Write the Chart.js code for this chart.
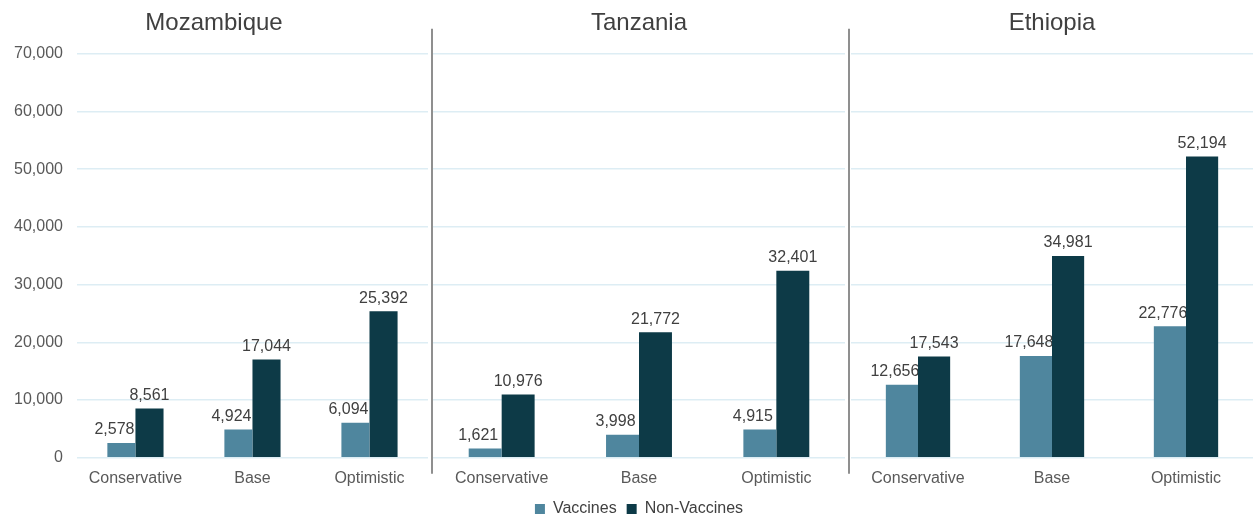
<!DOCTYPE html>
<html>
<head>
<meta charset="utf-8">
<script src="https://cdn.jsdelivr.net/npm/chart.js@4/dist/chart.umd.min.js"></script>
<style>
  html, body { margin: 0; padding: 0; background: #ffffff; }
  #wrap { position: relative; width: 1258px; height: 522px; overflow: hidden; }
  .panel { position: absolute; top: 0; height: 522px; }
</style>
</head>
<body>
<div id="wrap">
  <div class="panel" style="left:0;width:431px"><canvas id="c0"></canvas></div>
  <div class="panel" style="left:431px;width:417px;height:529px"><canvas id="c1"></canvas></div>
  <div class="panel" style="left:848px;width:410px"><canvas id="c2"></canvas></div>
</div>
<script>
// Scenario categories and country panels
const scenarios = ['Conservative', 'Base', 'Optimistic'];
const countries = ['Mozambique', 'Tanzania', 'Ethiopia'];
const seriesNames = ['Vaccines', 'Non-Vaccines'];

// Values per country, one array per series
const mozambiqueVaccines = [2578, 4924, 6094];
const mozambiqueNonVaccines = [8561, 17044, 25392];
const tanzaniaVaccines = [1621, 3998, 4915];
const tanzaniaNonVaccines = [10976, 21772, 32401];
const ethiopiaVaccines = [12656, 17648, 22776];
const ethiopiaNonVaccines = [17543, 34981, 52194];

// Value axis range
const yMin = 0;
const yMax = 70000;
const yStep = 10000;

const panelValues = [
  [mozambiqueVaccines, mozambiqueNonVaccines],
  [tanzaniaVaccines, tanzaniaNonVaccines],
  [ethiopiaVaccines, ethiopiaNonVaccines]
];

const FONT = 'Liberation Sans, Arial, sans-serif';
const LIGHT = '#4f869e';
const DARK = '#0d3a47';
const TEXT = '#404040';
const AXIS_TEXT = '#595959';
const GRID = '#ddedf4';

const fmt = v => Number(v).toLocaleString('en-US');

function drawLabels(chart, under) {
  const ctx = chart.ctx;
  ctx.save();
  ctx.font = '16px ' + FONT;
  ctx.fillStyle = TEXT;
  ctx.textAlign = 'center';
  ctx.textBaseline = 'bottom';
  chart.data.datasets.forEach((ds, d) => {
    if (!!ds.labelUnder !== under) return;
    chart.getDatasetMeta(d).data.forEach((bar, i) => {
      ctx.fillText(fmt(ds.data[i]), bar.x + (ds.labelShift || 0), bar.y - 5);
    });
  });
  ctx.restore();
}

// Value labels above bars; the Vaccines labels go beneath the bars so
// the neighbouring Non-Vaccines bar overlaps them
const valueLabels = {
  id: 'valueLabels',
  beforeDatasetsDraw(chart) { drawLabels(chart, true); },
  afterDatasetsDraw(chart) { drawLabels(chart, false); }
};

// Vertical divider on the left edge of a panel
const divider = {
  id: 'divider',
  afterDraw(chart, args, opts) {
    if (!opts.show) return;
    const ctx = chart.ctx;
    const a = chart.chartArea;
    ctx.save();
    ctx.strokeStyle = '#8f8f8f';
    ctx.lineWidth = 2;
    ctx.beginPath();
    ctx.moveTo(1, a.top - 25);
    ctx.lineTo(1, a.bottom + 16);
    ctx.stroke();
    ctx.restore();
  }
};

function makePanel(idx) {
  const [vac, nonVac] = panelValues[idx];
  const first = idx === 0;
  const middle = idx === 1;
  const pads = [
    { left: 0, right: 3, top: 0, bottom: 31 },
    { left: 2, right: 3, top: 0, bottom: 2 },
    { left: 3, right: 5, top: 0, bottom: 31 }
  ][idx];

  new Chart(document.getElementById('c' + idx), {
    type: 'bar',
    data: {
      labels: scenarios,
      datasets: [
        {
          label: seriesNames[0],
          data: vac,
          backgroundColor: LIGHT,
          labelUnder: true,
          labelShift: -7
        },
        {
          label: seriesNames[1],
          data: nonVac,
          backgroundColor: DARK,
          labelShift: 0
        }
      ]
    },
    options: {
      responsive: true,
      maintainAspectRatio: false,
      animation: false,
      layout: { padding: pads },
      datasets: {
        bar: { categoryPercentage: 0.48, barPercentage: 1.0, borderWidth: 0 }
      },
      plugins: {
        title: {
          display: true,
          text: countries[idx],
          color: TEXT,
          font: { family: FONT, size: 24, weight: 'normal' },
          padding: { top: 9, bottom: 16 }
        },
        legend: {
          display: middle,
          position: 'bottom',
          labels: {
            color: TEXT,
            font: { family: FONT, size: 16 },
            boxWidth: 10,
            boxHeight: 10,
            padding: 10
          }
        },
        tooltip: { enabled: false },
        divider: { show: !first }
      },
      scales: {
        x: {
          grid: { display: false },
          border: { display: false },
          ticks: {
            color: AXIS_TEXT,
            font: { family: FONT, size: 16 },
            padding: 3,
            maxRotation: 0
          }
        },
        y: {
          min: yMin,
          max: yMax,
          border: { display: false },
          grid: { color: GRID, lineWidth: 1.5, drawTicks: false },
          ticks: {
            display: first,
            stepSize: yStep,
            color: AXIS_TEXT,
            font: { family: FONT, size: 16 },
            padding: 14,
            callback: v => fmt(v)
          }
        }
      }
    },
    plugins: [valueLabels, divider]
  });
}

[0, 1, 2].forEach(makePanel);
</script>
</body>
</html>
